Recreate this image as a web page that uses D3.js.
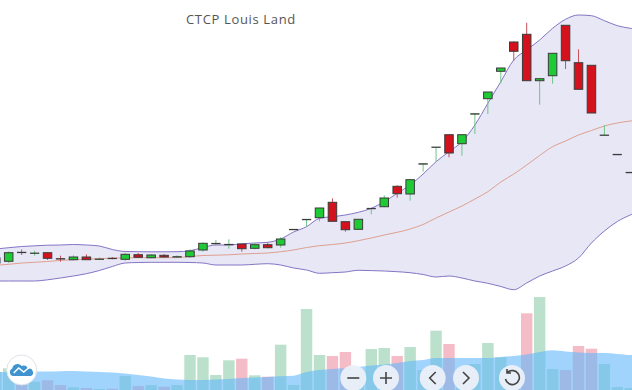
<!DOCTYPE html>
<html>
<head>
<meta charset="utf-8">
<script src="https://cdn.jsdelivr.net/npm/d3@7/dist/d3.min.js"></script>
<style>
  html, body { margin: 0; padding: 0; background: #fff; overflow: hidden; }
  svg { display: block; }
</style>
</head>
<body>
<div class="canva"></div>
<script>
const width = 632
const height = 390

// sessions -1 and 49 sit just outside the visible window
const sessions = d3.range(-1, 50)

const open = [2.70,2.87,3.78,3.70,3.73,3.14,3.03,3.30,3.10,3.18,3.07,3.53,3.23,3.47,3.34,3.33,4.00,4.67,4.57,4.60,4.17,4.53,4.50,6.07,7.07,7.23,8.77,6.83,6.07,8.17,8.33,10.37,9.60,12.63,14.30,15.53,14.63,17.63,19.13,21.87,24.80,25.57,20.93,21.43,26.47,22.73,22.47,15.50,13.57,11.77,10.60]
const close = [3.20,3.73,3.76,3.70,3.17,3.12,3.30,3.03,3.10,3.16,3.57,3.27,3.50,3.30,3.34,3.90,4.67,4.67,4.57,4.13,4.53,4.23,5.10,6.07,7.07,8.20,6.87,6.03,7.07,8.17,9.20,9.63,11.03,12.63,14.30,13.70,15.53,17.63,19.80,22.20,23.87,20.93,21.13,23.67,22.93,20.07,17.70,15.50,13.57,11.77,10.60]
const high = [3.40,3.85,4.05,3.93,3.73,3.43,3.47,3.57,3.27,3.30,3.73,3.70,3.57,3.60,3.47,4.07,4.77,5.00,5.07,4.60,4.70,4.73,5.27,6.07,7.07,8.20,9.17,6.83,7.07,8.17,9.47,10.47,11.03,12.63,14.30,15.53,15.53,17.63,19.80,22.20,24.87,26.73,21.13,23.67,26.47,24.07,22.47,16.47,13.57,11.77,10.60]
const low = [2.50,2.70,3.50,3.43,3.00,2.83,2.93,3.00,3.00,3.07,2.93,3.23,3.17,3.23,3.23,3.20,3.83,4.47,4.13,3.83,4.07,4.17,4.23,6.03,6.33,6.87,6.87,5.83,6.00,7.57,8.27,9.23,8.93,11.83,12.83,13.27,13.43,15.60,17.60,20.67,22.93,20.93,18.53,20.63,22.10,20.07,17.70,15.50,13.57,11.77,10.60]

const upperBand = [4.10,4.23,4.35,4.42,4.48,4.50,4.55,4.50,4.40,4.05,3.85,3.83,3.82,3.82,3.83,3.93,4.25,4.50,4.50,4.62,4.70,4.77,5.10,5.80,6.33,7.17,7.33,7.50,7.77,8.17,8.83,9.67,10.50,11.60,12.83,13.83,14.83,16.50,18.67,20.83,23.00,24.00,25.00,26.17,27.07,27.50,27.43,26.93,26.43,26.17,26.00]
const middleBand = [2.47,2.57,2.70,2.77,2.85,2.96,3.03,3.08,3.13,3.18,3.22,3.23,3.23,3.23,3.24,3.35,3.45,3.48,3.52,3.60,3.65,3.70,3.83,4.00,4.25,4.43,4.55,4.70,4.93,5.20,5.50,5.77,6.10,6.55,7.20,7.80,8.40,9.10,9.83,10.80,11.60,12.50,13.45,14.33,14.90,15.50,15.95,16.40,16.70,16.90,17.00]
const lowerBand = [0.90,0.90,0.90,0.90,1.02,1.20,1.40,1.63,1.95,2.35,2.70,2.75,2.77,2.77,2.77,2.75,2.70,2.50,2.50,2.50,2.57,2.63,2.50,2.20,2.00,1.67,1.73,1.80,1.97,1.94,1.90,1.83,1.73,1.55,1.30,1.40,1.20,0.90,0.67,0.35,0.03,0.70,1.40,1.90,2.40,3.20,4.70,5.90,6.85,7.50,8.00]

const volume = [18,21.7,5.7,8.3,9.7,5,2.7,2,1,1.3,14,4,5,3.3,5,35,32.7,15,29.7,31.3,14.7,13.3,45.3,5,81,35,34,38,16,41,42,34,43,20,59.3,46,10,26,47,32.7,12,76.7,93,21,20,44,41.3,26,3,2,2]
const volumeAvg = [18,18,18.2,18.3,18.5,18.8,19,18.5,18,17.5,16.5,15,13.5,11.5,10.5,10,10,10.5,11,12,12.5,13,13.7,14.3,18,20,21,21.7,23,24.5,25.5,27,29,30,32,32,32,32,32,33,34,35.5,38,39.7,38.5,37.5,37,37,36,35,35]

const title = 'CTCP Louis Land'

const colors = {
    up: '#1ecb35', down: '#d4121e', upWick: '#6fc488', downWick: '#c9525f',
    outline: '#3b3b3b', band: '#e7e7f5', bandLine: '#8575c6', midLine: '#dfa08f',
    volUp: '#3caa6e', volDown: '#e0405e', volAvg: '#62b8fa'
}

const svg = d3.select('.canva').append('svg')
    .attr('width', width)
    .attr('height', height)

const x = d3.scaleBand()
    .domain(sessions)
    .range([-10.725, 649.725])
const cx = i => x(i) + x.bandwidth() / 2
const y = d3.scaleLinear().domain([0, 29]).range([290, 0])
const yVol = d3.scaleLinear().domain([0, 93]).range([390, 297])

const bodyWidth = 8.5
const volWidth = 11.4

// bollinger band
const bandArea = d3.area()
    .x(i => cx(i))
    .y0((i, k) => y(lowerBand[k]))
    .y1((i, k) => y(upperBand[k]))
    .curve(d3.curveMonotoneX)
const bandEdge = values => d3.line()
    .x(i => cx(i))
    .y((i, k) => y(values[k]))
    .curve(d3.curveMonotoneX)

svg.append('path').attr('d', bandArea(sessions)).attr('fill', colors.band)
svg.append('path').attr('d', bandEdge(upperBand)(sessions))
    .attr('fill', 'none').attr('stroke', colors.bandLine)
svg.append('path').attr('d', bandEdge(lowerBand)(sessions))
    .attr('fill', 'none').attr('stroke', colors.bandLine)
svg.append('path').attr('d', bandEdge(middleBand)(sessions))
    .attr('fill', 'none').attr('stroke', colors.midLine)

// candles
const isUp = k => close[k] >= open[k]
const isDoji = k => Math.abs(y(open[k]) - y(close[k])) < 1

const candle = svg.append('g').selectAll('g')
    .data(sessions)
    .enter()
    .append('g')

candle.append('line')
    .attr('x1', i => cx(i))
    .attr('x2', i => cx(i))
    .attr('y1', (i, k) => y(high[k]))
    .attr('y2', (i, k) => y(low[k]))
    .attr('stroke', (i, k) => isUp(k) ? colors.upWick : colors.downWick)

candle.append('rect')
    .attr('x', i => cx(i) - bodyWidth / 2)
    .attr('width', bodyWidth)
    .attr('y', (i, k) => y(Math.max(open[k], close[k])))
    .attr('height', (i, k) => Math.max(Math.abs(y(open[k]) - y(close[k])), 0.5))
    .attr('fill', (i, k) => isUp(k) ? colors.up : colors.down)
    .attr('stroke', colors.outline)
    .attr('stroke-width', (i, k) => isDoji(k) ? 0.8 : 1)

// volume
svg.append('g').selectAll('rect')
    .data(sessions)
    .enter()
    .append('rect')
    .attr('x', i => cx(i) - volWidth / 2)
    .attr('width', volWidth)
    .attr('y', (i, k) => yVol(volume[k]))
    .attr('height', (i, k) => yVol(0) - yVol(volume[k]))
    .attr('fill', (i, k) => isUp(k) ? colors.volUp : colors.volDown)
    .attr('fill-opacity', 0.35)

const volArea = d3.area()
    .x(i => cx(i))
    .y0(yVol(0))
    .y1((i, k) => yVol(volumeAvg[k]))
    .curve(d3.curveMonotoneX)

svg.append('path').attr('d', volArea(sessions))
    .attr('fill', colors.volAvg)
    .attr('fill-opacity', 0.6)

svg.append('text')
    .attr('x', 186)
    .attr('y', 24)
    .attr('font-family', '"Open Sans", sans-serif')
    .attr('font-size', 13)
    .attr('letter-spacing', 0.65)
    .attr('fill', '#555')
    .text(title)

// zoom buttons
const buttons = [
    {cx: 353.3, icon: 'M-6 0H6'},
    {cx: 386, icon: 'M-6 0H6M0 -6V6'},
    {cx: 432.7, icon: 'M3 -6L-3 0L3 6'},
    {cx: 466, icon: 'M-3 -6L3 0L-3 6'},
    {cx: 512, icon: 'M-4.5 -5.5A7 7 0 1 1 -6.5 1M-5 -9V-5H-1'}
]
const button = svg.append('g').selectAll('g')
    .data(buttons)
    .enter()
    .append('g')
    .attr('transform', d => `translate(${d.cx}, 378)`)
button.append('circle')
    .attr('r', 13)
    .attr('fill', '#ecf0f8')
    .attr('fill-opacity', 0.95)
button.append('path')
    .attr('d', d => d.icon)
    .attr('fill', 'none')
    .attr('stroke', '#444')
    .attr('stroke-width', 1.6)

// logo badge
const logo = svg.append('g').attr('transform', 'translate(21.7, 370)')
logo.append('circle')
    .attr('r', 15)
    .attr('fill', '#fff')
    .attr('stroke', '#dfe3e8')
logo.append('path')
    .attr('d', 'M-9 6A4 4 0 0 1 -9.5 -1.5A5.5 5.5 0 0 1 0 -4A4 4 0 0 1 6 -1A3.7 3.7 0 0 1 9 6Z')
    .attr('fill', '#3f93cf')
logo.append('path')
    .attr('d', 'M-8 3L-3 -2L2 2L8 -3')
    .attr('fill', 'none')
    .attr('stroke', '#fff')
    .attr('stroke-width', 1.5)
</script>
</body>
</html>
